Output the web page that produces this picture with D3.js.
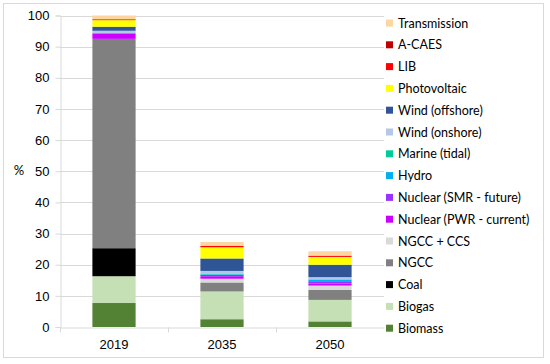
<!DOCTYPE html>
<html lang="en">
<head>
<meta charset="utf-8">
<title>Share by technology</title>
<script src="https://cdn.jsdelivr.net/npm/d3@7"></script>
<style>
  html, body { margin: 0; padding: 0; background: #fff; }
  svg { display: block; font-family: Lato, "Open Sans", sans-serif; }
  .grid line { stroke: #d9d9d9; stroke-width: 1; }
  .axis text { fill: #000; font-size: 13px; }
  .legend text { font-size: 12.5px; fill: #000; }
</style>
</head>
<body>
<script>
// categories (years)
var years = ["2019", "2035", "2050"];

// series, bottom to top
var seriesNames = ["Biomass", "Biogas", "Coal", "NGCC", "NGCC + CCS",
  "Nuclear (PWR - current)", "Nuclear (SMR - future)", "Hydro", "Marine (tidal)",
  "Wind (onshore)", "Wind (offshore)", "Photovoltaic", "LIB", "A-CAES", "Transmission"];

var colors = ["#548235", "#c5e0b4", "#000000", "#808080", "#d9d9d9",
  "#cc00ff", "#9933ff", "#00b0f0", "#00cc99",
  "#b4c7e7", "#2f5597", "#ffff00", "#ff0000", "#c00000", "#fdd5a0"];

// values in %, one per year
var biomass      = [7.7, 2.5, 1.8];
var biogas       = [8.6, 8.9, 6.9];
var coal         = [9.0, 0, 0];
var ngcc         = [67.2, 2.9, 3.2];
var ngccCcs      = [0, 1.2, 1.4];
var nuclearPwr   = [1.7, 0.8, 0.7];
var nuclearSmr   = [0, 0.4, 0.7];
var hydro        = [0.2, 0.2, 0.4];
var marine       = [0, 0.1, 0.2];
var windOnshore  = [0.7, 1.0, 0.7];
var windOffshore = [1.3, 4.0, 4.0];
var photovoltaic = [2.1, 3.6, 2.5];
var lib          = [0.3, 0.4, 0.4];
var acaes        = [0, 0, 0];
var transmission = [1.2, 1.3, 1.4];

var yTicks = [0, 10, 20, 30, 40, 50, 60, 70, 80, 90, 100];

var seriesValues = [biomass, biogas, coal, ngcc, ngccCcs, nuclearPwr, nuclearSmr,
  hydro, marine, windOnshore, windOffshore, photovoltaic, lib, acaes, transmission];

// table for d3.stack
var table = years.map(function(yr, i) {
  var row = { year: yr };
  seriesNames.forEach(function(s, j) { row[s] = seriesValues[j][i]; });
  return row;
});

var W = 550, H = 364;
var svg = d3.select("body").append("svg").attr("width", W).attr("height", H);

// outer chart border
svg.append("rect")
  .attr("x", 3.5).attr("y", 3.5)
  .attr("width", 540).attr("height", 354)
  .attr("fill", "#fff").attr("stroke", "#d9d9d9");

// plot area (note: "top" is reserved on window)
var plotL = 60, plotR = 384, plotT = 15.5, plotB = 327;

var x = d3.scaleBand().domain(years).range([plotL, plotR]).paddingInner(0.6).paddingOuter(0.3);
var y = d3.scaleLinear().domain([0, 100]).range([plotB, plotT]);

// gridlines
svg.append("g").attr("class", "grid")
  .selectAll("line").data(yTicks.filter(function(d) { return d > 0; }))
  .enter().append("line")
  .attr("x1", plotL).attr("x2", plotR)
  .attr("y1", function(d) { return Math.round(y(d)) + 0.5; })
  .attr("y2", function(d) { return Math.round(y(d)) + 0.5; });

// stacked bars
var stack = d3.stack().keys(seriesNames);
var layers = stack(table);

svg.append("g").selectAll("g")
  .data(layers).enter().append("g")
  .attr("fill", function(d, i) { return colors[i]; })
  .selectAll("rect")
  .data(function(d) { return d; })
  .enter().append("rect")
  .attr("x", function(d) { return x(d.data.year); })
  .attr("width", x.bandwidth())
  .attr("y", function(d) { return y(d[1]); })
  .attr("height", function(d) { return y(d[0]) - y(d[1]); });

// y axis
var yAxis = d3.axisLeft(y).tickValues(yTicks).tickSize(5).tickPadding(6);
var gy = svg.append("g").attr("class", "axis")
  .attr("transform", "translate(" + (plotL + 0.5) + ",0)")
  .call(yAxis);
gy.select(".domain").attr("stroke", "#d9d9d9");
gy.selectAll(".tick line").attr("stroke", "#d9d9d9");
gy.selectAll("text").style("font-size", "13px");

// x axis, ticks sit between categories
var xAxis = d3.axisBottom(x).tickSizeOuter(0).tickSize(0).tickPadding(12);
var gx = svg.append("g").attr("class", "axis")
  .attr("transform", "translate(0," + (plotB + 0.5) + ")")
  .call(xAxis);
gx.select(".domain").attr("stroke", "#d9d9d9");
gx.selectAll("text").style("font-size", "13px");

var step = x.step();
var dividers = [plotL].concat(years.slice(1).map(function(d) { return x(d) - (step - x.bandwidth()) / 2; }));
gx.selectAll(".divider").data(dividers).enter().append("line")
  .attr("x1", function(d) { return Math.round(d) + 0.5; })
  .attr("x2", function(d) { return Math.round(d) + 0.5; })
  .attr("y1", 0).attr("y2", 5)
  .attr("stroke", "#d9d9d9");

// y axis title
svg.append("text")
  .attr("x", 19).attr("y", y(50) + 4)
  .attr("text-anchor", "middle")
  .style("font-size", "13px")
  .text("%");

// legend, top item is the last series
var legendItems = seriesNames.slice().reverse();
var legendColors = colors.slice().reverse();
var legend = svg.append("g").attr("class", "legend");
var rowH = 21.8;
legendItems.forEach(function(name, i) {
  var cy = 23 + i * rowH;
  legend.append("rect")
    .attr("x", 386).attr("y", cy - 3.5)
    .attr("width", 7).attr("height", 7)
    .attr("fill", legendColors[i]);
  legend.append("text")
    .attr("x", 398).attr("y", cy + 4.5)
    .text(name);
});
</script>
</body>
</html>
